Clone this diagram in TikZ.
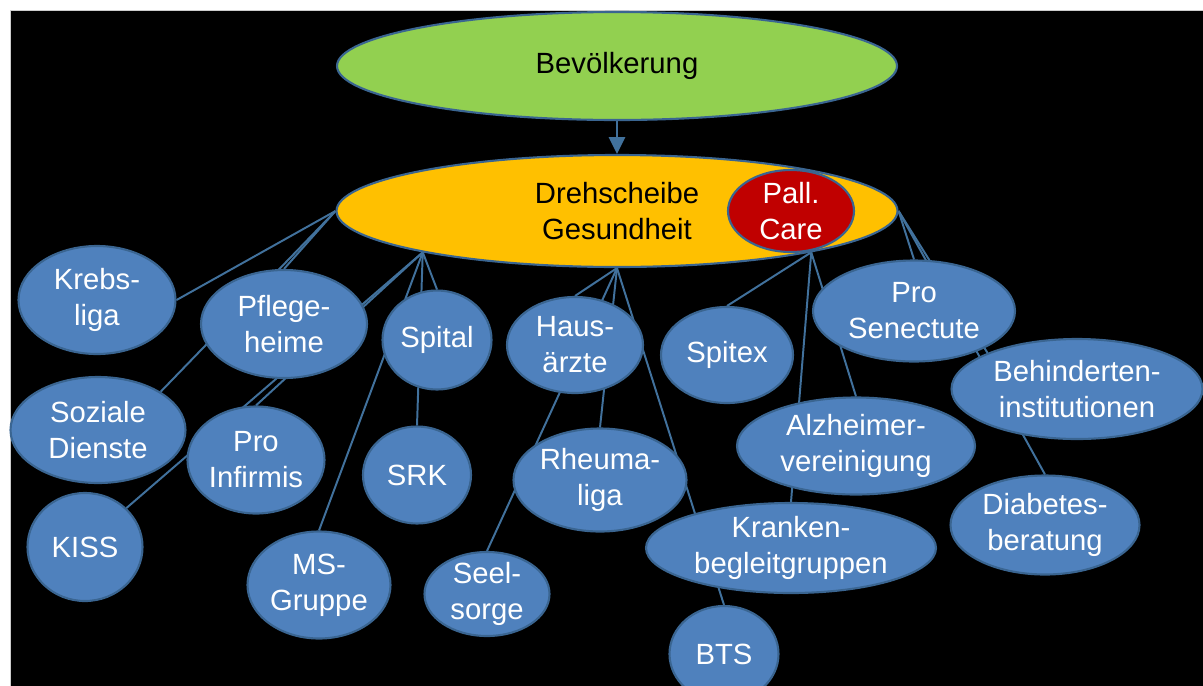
\documentclass[tikz,border=0pt]{standalone}
\usepackage{fontspec}
\setmainfont{Liberation Sans}
\usepackage{xcolor}
\usetikzlibrary{positioning, arrows.meta, shapes.geometric}

\definecolor{nodeblue}{HTML}{4F81BD}
\definecolor{nodeline}{HTML}{3A6591}
\definecolor{linkblue}{HTML}{41719C}
\definecolor{hubyellow}{HTML}{FFC000}
\definecolor{popgreen}{HTML}{92D050}
\definecolor{palred}{HTML}{C00000}

\pgfdeclarelayer{bg}
\pgfdeclarelayer{links}
\pgfsetlayers{bg,links,main}

\newcommand{\px}{0.025cm}

\begin{document}
\begin{tikzpicture}[
    x=\px, y=-\px,
    bubble/.style 2 args={ellipse, draw=nodeline, line width=1.5pt, fill=nodeblue, text=white, align=center, inner sep=-20pt, minimum width=#1*\px, minimum height=#2*\px, font=\fontsize{20.8}{25.6}\selectfont},
    link/.style={draw=linkblue, line width=1.4pt},
    arrow/.style={-{Triangle[length=12pt, width=11.5pt]}, draw=linkblue, fill=linkblue, line width=1.5pt}
]
\useasboundingbox (0,0) rectangle (1203,685);
\begin{pgfonlayer}{bg}
\fill[white] (0,0) rectangle (1203,685);
\filldraw[fill=black, draw=gray!40, line width=0.4pt] (10,10) rectangle (1210,690);
\end{pgfonlayer}

\node[bubble={560}{108}, fill=popgreen, text=black] (pop) at (617,66) {Bevölkerung};
\node[bubble={561}{112}, fill=hubyellow, text=black] (hub) at (617,211) {Drehscheibe\\Gesundheit};
\node[bubble={126}{82}, fill=palred] (pall) at (791,211) {Pall.\\Care};

\node[bubble={157}{108}] (krebs) at (97,300) {Krebs-\\liga};
\node[bubble={166}{108}] (pflege) at (284,324) {Pflege-\\heime};
\node[bubble={175}{106}] (sozial) at (98,430) {Soziale\\Dienste};
\node[bubble={137}{107}] (proinf) at (256,460) {Pro\\Infirmis};
\node[bubble={115}{108}] (kiss) at (85,547) {KISS};
\node[bubble={143}{107}] (ms) at (319,585) {MS-\\Gruppe};
\node[bubble={109}{99}] (spital) at (437,340) {Spital};
\node[bubble={108}{97}] (srk) at (417,475) {SRK};
\node[bubble={136}{96}] (haus) at (575,345) {Haus-\\ärzte};
\node[bubble={173}{103}] (rheuma) at (600,480) {Rheuma-\\liga};
\node[bubble={125}{84}] (seel) at (487,594) {Seel-\\sorge};
\node[bubble={132}{96}] (spitex) at (727,355) {Spitex};
\node[bubble={202}{101}] (prosen) at (914,311) {Pro\\Senectute};
\node[bubble={251}{100}] (behind) at (1077,389) {Behinderten-\\institutionen};
\node[bubble={238}{97}] (alz) at (856,446) {Alzheimer-\\vereinigung};
\node[bubble={189}{99}] (diab) at (1045,525) {Diabetes-\\beratung};
\node[bubble={290}{90}] (kranken) at (791,548) {Kranken-\\begleitgruppen};
\node[bubble={109}{96}] (bts) at (724,654) {BTS};

\draw[arrow] (pop) -- (hub);

\begin{pgfonlayer}{links}
\draw[link] (hub.west) -- (krebs.east);
\draw[link] (hub.west) -- (pflege.north);
\draw[link] (hub.west) -- (sozial.north east);
\draw[link] (hub.192) -- (kiss.north east);
\draw[link] (hub.192) -- (proinf.north);
\draw[link] (hub.192) -- (ms.north);
\draw[link] (hub.192) -- (srk.north);
\draw[link] (hub.192) -- (spital.north);
\draw[link] (hub.south) -- (haus.north);
\draw[link] (hub.south) -- (seel.north);
\draw[link] (hub.south) -- (rheuma.north);
\draw[link] (hub.south) -- (bts.north);
\draw[link] (hub.348) -- (spitex.north);
\draw[link] (hub.348) -- (kranken.north);
\draw[link] (hub.348) -- (alz.north);
\draw[link] (hub.east) -- (prosen.north);
\draw[link] (hub.east) -- (behind.north west);
\draw[link] (hub.east) -- (diab.north);
\end{pgfonlayer}
\end{tikzpicture}
\end{document}
